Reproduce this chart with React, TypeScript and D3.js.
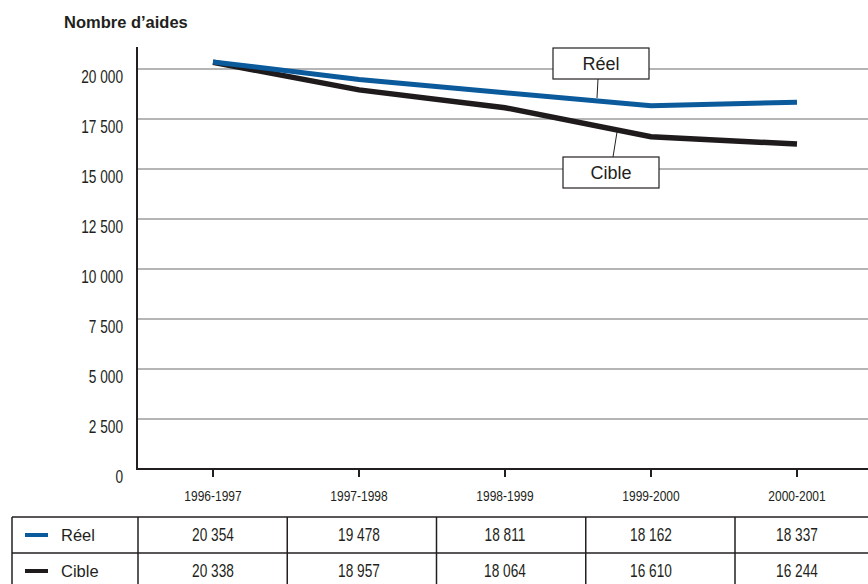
import React from "react";
import * as d3 from "d3";

const periods = ["1996-1997", "1997-1998", "1998-1999", "1999-2000", "2000-2001"];
const reelValues = [20354, 19478, 18811, 18162, 18337];
const cibleValues = [20338, 18957, 18064, 16610, 16244];
const yTicks = [0, 2500, 5000, 7500, 10000, 12500, 15000, 17500, 20000];
const seriesNames = ["Réel", "Cible"];
const seriesColors = ["#0b5a9c", "#1f1b1c"];

const W = 868;
const H = 584;
const SANS = "'Liberation Sans', Arial, Helvetica, sans-serif";
const INK = "#231f20";

const fmt = (v: number) => d3.format(",")(v).replace(/,/g, " ");

// Horizontally compressed text, for the narrow figures used on axes and in the table
function CText(props: {
  x: number;
  y: number;
  size: number;
  sx: number;
  anchor?: "start" | "middle" | "end";
  children: React.ReactNode;
}) {
  const { x, y, size, sx, anchor = "start", children } = props;
  return (
    <text
      transform={`translate(${x},${y}) scale(${sx},1)`}
      textAnchor={anchor}
      dominantBaseline="central"
      fontFamily={SANS}
      fontSize={size}
      fill={INK}
    >
      {children}
    </text>
  );
}

export default function App() {
  const axisX = 137;
  const plotRight = W;
  const y = d3.scaleLinear().domain([0, 20000]).range([469, 69]);
  const band = d3.scaleBand().domain(periods).range([140, 870]);
  const x = (p: string) => (band(p) as number) + band.bandwidth() / 2;

  const line = d3
    .line<number>()
    .x((_, i) => x(periods[i]))
    .y((v) => y(v));

  const series = [reelValues, cibleValues];

  // y of a series' polyline at a given horizontal position
  const yAt = (vals: number[], px: number) => {
    const xs = periods.map(x);
    for (let i = 0; i < xs.length - 1; i++) {
      if (px >= xs[i] && px <= xs[i + 1]) {
        const t = (px - xs[i]) / (xs[i + 1] - xs[i]);
        return y(vals[i] + t * (vals[i + 1] - vals[i]));
      }
    }
    return y(vals[vals.length - 1]);
  };

  // table geometry
  const tTop = 517;
  const rowH = 36;
  const tLeft = 12;
  const colEdges = d3.range(5).map((i) => 138 + i * 149.25);

  const reelLeaderX = 597;
  const cibleLeaderX = 617;

  return (
    <svg
      width={W}
      height={H}
      style={{ position: "fixed", left: 0, top: 0, background: "#fff" }}
    >
      <rect x={0} y={0} width={W} height={H} fill="#fff" />
      <text x={64} y={28} fontFamily={SANS} fontWeight="bold" fontSize={16.5} fill={INK}>
        Nombre d’aides
      </text>

      {/* grid lines and y labels */}
      {yTicks.map((t) => (
        <g key={t}>
          {t > 0 && (
            <line x1={axisX} x2={plotRight} y1={y(t)} y2={y(t)} stroke="#6d6d6d" strokeWidth={1.2} />
          )}
          <CText x={123} y={y(t) + 8} size={18} sx={0.76} anchor="end">
            {fmt(t)}
          </CText>
        </g>
      ))}

      {/* axes */}
      <line x1={axisX} x2={axisX} y1={47} y2={y(0) + 1} stroke={INK} strokeWidth={2} />
      <line x1={axisX - 1} x2={plotRight} y1={y(0)} y2={y(0)} stroke={INK} strokeWidth={2} />
      {periods.map((p) => (
        <g key={p}>
          <line x1={x(p)} x2={x(p)} y1={y(0)} y2={y(0) + 8} stroke={INK} strokeWidth={2} />
          <CText x={x(p)} y={496} size={15} sx={0.8} anchor="middle">
            {p}
          </CText>
        </g>
      ))}

      {/* series lines */}
      {[1, 0].map((si) => (
        <path
          key={si}
          d={line(series[si]) as string}
          fill="none"
          stroke={seriesColors[si]}
          strokeWidth={si === 0 ? 5 : 5.5}
          strokeLinejoin="miter"
        />
      ))}

      {/* callouts */}
      <line
        x1={598}
        y1={79}
        x2={reelLeaderX}
        y2={yAt(reelValues, reelLeaderX) - 3}
        stroke={INK}
        strokeWidth={1}
      />
      <rect x={553} y={48} width={96} height={31} fill="#fff" stroke={INK} strokeWidth={1.2} />
      <text x={601} y={64} textAnchor="middle" dominantBaseline="central" fontFamily={SANS} fontSize={18} fill={INK}>
        {seriesNames[0]}
      </text>

      <line
        x1={cibleLeaderX}
        y1={yAt(cibleValues, cibleLeaderX) + 2}
        x2={613}
        y2={157}
        stroke={INK}
        strokeWidth={1}
      />
      <rect x={563} y={157} width={96} height={31} fill="#fff" stroke={INK} strokeWidth={1.2} />
      <text x={611} y={173} textAnchor="middle" dominantBaseline="central" fontFamily={SANS} fontSize={18} fill={INK}>
        {seriesNames[1]}
      </text>

      {/* data table */}
      <g stroke={INK} strokeWidth={1.5}>
        <line x1={tLeft} x2={W} y1={tTop} y2={tTop} />
        <line x1={tLeft} x2={W} y1={tTop + rowH} y2={tTop + rowH} />
        <line x1={tLeft} x2={tLeft} y1={tTop} y2={H} />
        {colEdges.map((cx) => (
          <line key={cx} x1={cx} x2={cx} y1={tTop} y2={H} />
        ))}
      </g>
      {series.map((vals, si) => {
        const cy = tTop + rowH * si + rowH / 2;
        return (
          <g key={si}>
            <line x1={25} x2={48} y1={cy} y2={cy} stroke={seriesColors[si]} strokeWidth={4} />
            <text x={61} y={cy} dominantBaseline="central" fontFamily={SANS} fontSize={16.5} fill={INK}>
              {seriesNames[si]}
            </text>
            {vals.map((v, i) => (
              <CText key={i} x={x(periods[i])} y={cy} size={18} sx={0.76} anchor="middle">
                {fmt(v)}
              </CText>
            ))}
          </g>
        );
      })}
    </svg>
  );
}
